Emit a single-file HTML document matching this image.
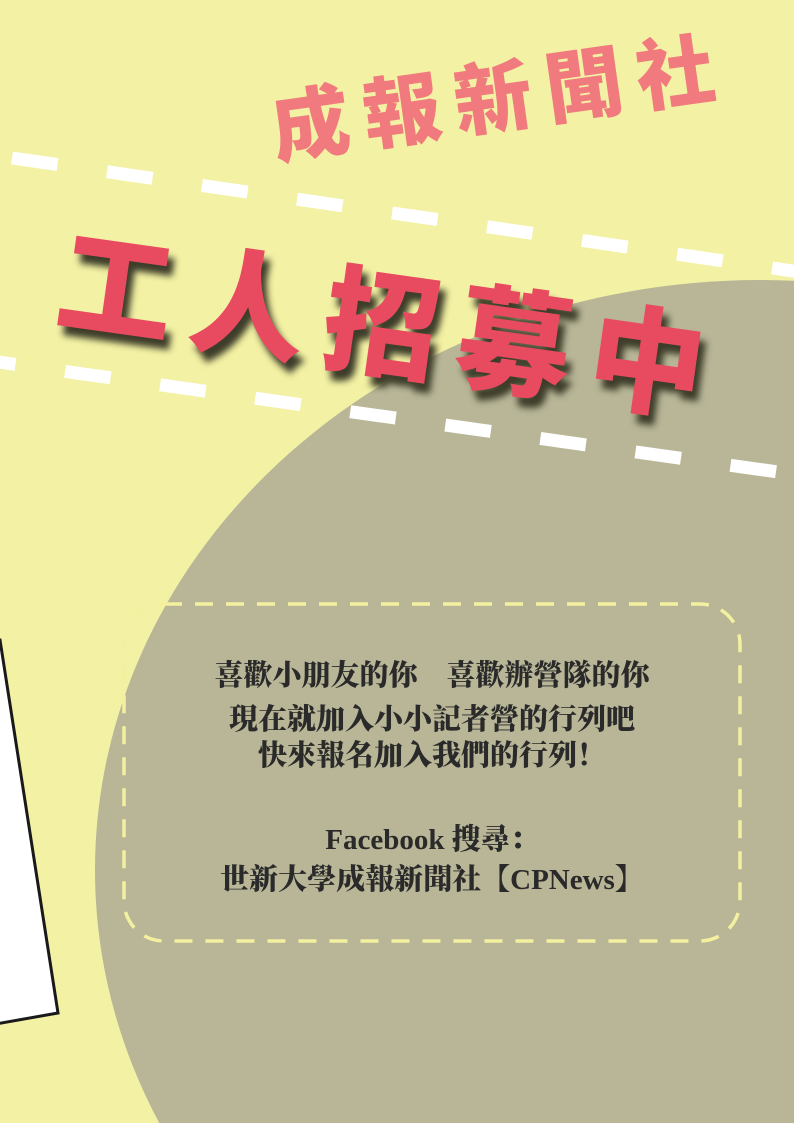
<!DOCTYPE html>
<html><head><meta charset="utf-8"><style>
html,body{margin:0;padding:0;width:794px;height:1123px;overflow:hidden}
body{position:relative;background:#f3f1a3;font-family:"Liberation Sans","Noto Sans CJK TC",sans-serif}
.abs{position:absolute}
</style></head><body>
<svg class="abs" style="left:0;top:0" width="794" height="1123">
  <ellipse cx="760" cy="870" rx="665" ry="590" fill="#b8b697"/>
  <polygon points="-10,640 0,640 58,1013 -10,1025" fill="#ffffff" stroke="#1a1a1a" stroke-width="3"/>
  <line x1="12" y1="158" x2="800" y2="272" stroke="#ffffff" stroke-width="13" stroke-dasharray="46 50"/>
  <line x1="-30" y1="358" x2="778" y2="472" stroke="#ffffff" stroke-width="13" stroke-dasharray="46 50"/>
  <rect x="124" y="604" width="616" height="337" rx="40" fill="none" stroke="#f3f0a0" stroke-width="3.5" stroke-dasharray="18 13"/>
</svg>
<div class="abs" style="left:266px;top:86px;font-size:78px;font-weight:900;color:#f07a7e;letter-spacing:14px;transform:rotate(-8deg);transform-origin:left top;white-space:nowrap;font-family:'Noto Sans CJK TC',sans-serif;line-height:1">成報新聞社</div>
<div class="abs" style="left:68px;top:214px;font-size:116px;font-weight:900;color:#e84a5f;letter-spacing:18px;transform:rotate(8deg);transform-origin:left top;white-space:nowrap;font-family:'Noto Sans CJK TC',sans-serif;line-height:1;text-shadow:7px 9px 7px #3d3d2a">工人招募中</div>
<div class="abs" style="left:124px;top:655px;width:616px;text-align:center;font-family:'Liberation Serif','Noto Serif CJK SC',serif;font-weight:900;font-size:29px;line-height:42px;color:#2a2a2a">
  <div>喜歡小朋友的你　喜歡辦營隊的你</div>
  <div style="margin-top:2px">現在就加入小小記者營的行列吧</div>
  <div style="margin-top:-6px">快來報名加入我們的行列！</div>
  <div style="height:42px"></div>
  <div>Facebook 搜尋：</div>
  <div style="margin-top:-2px">世新大學成報新聞社【CPNews】</div>
</div>
</body></html>
